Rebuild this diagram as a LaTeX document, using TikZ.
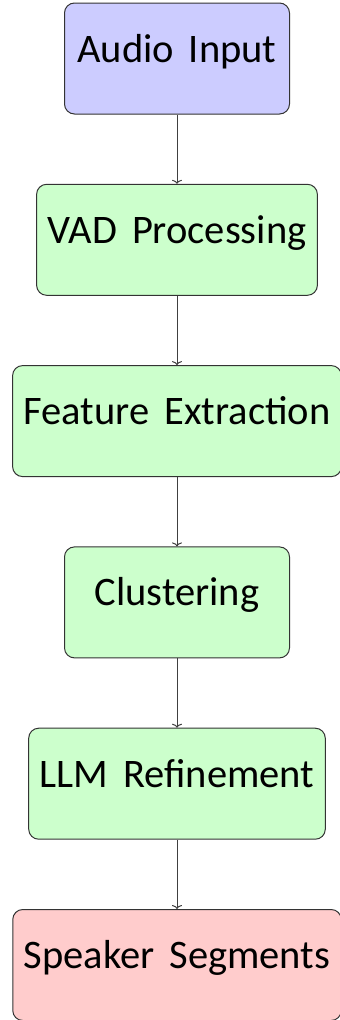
\documentclass[tikz,border=0pt]{standalone}
\usepackage{fontspec}
\setmainfont{Carlito}
\usetikzlibrary{positioning, arrows.meta}
\newcommand\boxfont{\fontsize{40.5}{48}\selectfont\spaceskip=15pt\relax}

\begin{document}
\begin{tikzpicture}[x=1pt, y=1pt, node distance=69.3pt,
  every node/.style={rectangle, rounded corners=10pt, draw=black!80, line width=1pt,
    minimum width=225pt, minimum height=111pt, inner xsep=11pt,
    text height=29pt, text depth=22pt, font=\boxfont},
  inbox/.style={fill=blue!20},
  procbox/.style={fill=green!20},
  outbox/.style={fill=red!20},
  flow/.style={-{To[length=4pt, width=10pt]}, draw=black!75, line width=1pt}]
  \useasboundingbox (0,0) rectangle (340,-1020);

  % Nodes
  \node (audio) at (177,-58.5) [inbox] {Audio Input};
  \node (vad) [procbox, below=of audio] {VAD Processing};
  \node (feat) [procbox, below=of vad] {Feature Extraction};
  \node (clust) [procbox, below=of feat] {Clustering};
  \node (llm) [procbox, below=of clust] {LLM Refinement};
  \node (spk) [outbox, below=of llm] {Speaker Segments};

  % Edges
  \draw[flow] (audio) -- (vad);
  \draw[flow] (vad) -- (feat);
  \draw[flow] (feat) -- (clust);
  \draw[flow] (clust) -- (llm);
  \draw[flow] (llm) -- (spk);
\end{tikzpicture}
\end{document}
